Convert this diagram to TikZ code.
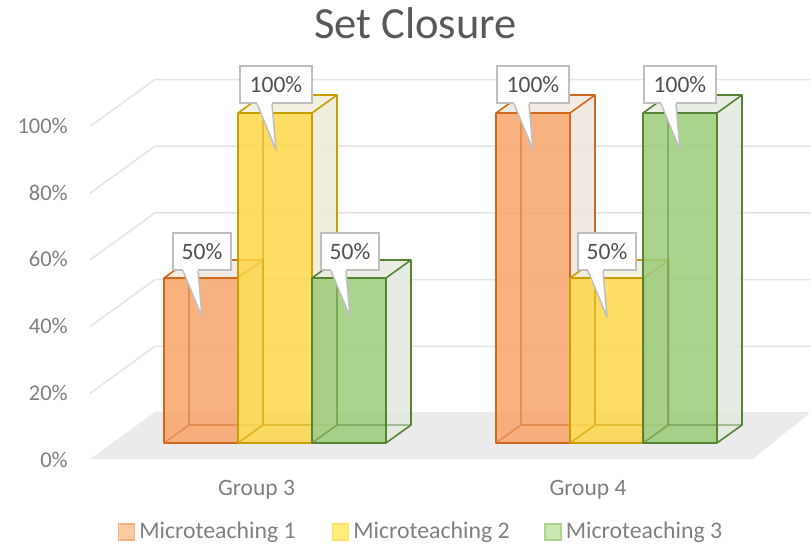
\documentclass[tikz,border=0pt]{standalone}
\usepackage{fontspec}
\setmainfont{Carlito}
\usepackage{tikz}
\usetikzlibrary{positioning, calc}
\definecolor{mtorange}{RGB}{247, 164, 105}
\definecolor{mtoedge}{RGB}{208, 104, 30}
\definecolor{mtyellow}{RGB}{253, 215, 72}
\definecolor{mtyedge}{RGB}{200, 158, 0}
\definecolor{mtgreen}{RGB}{155, 203, 122}
\definecolor{mtgedge}{RGB}{86, 132, 54}
\definecolor{keyorange}{RGB}{250, 203, 160}
\definecolor{keyoedge}{RGB}{246, 178, 128}
\definecolor{keyyellow}{RGB}{255, 238, 120}
\definecolor{keyyedge}{RGB}{252, 226, 98}
\definecolor{keygreen}{RGB}{200, 234, 176}
\definecolor{keygedge}{RGB}{172, 212, 144}
\definecolor{gridgray}{RGB}{228, 228, 228}
\definecolor{floorgray}{RGB}{235, 235, 235}
\definecolor{tickgray}{RGB}{128, 128, 128}
\definecolor{titlegray}{RGB}{89, 89, 89}
\definecolor{valgray}{RGB}{80, 80, 80}
\definecolor{boxgray}{RGB}{191, 191, 191}

% one 3D column: front-left x, front-top y, fill colour, edge colour
\newcommand{\mtbar}[4]{%
  \fill[#3, fill opacity=.85] (#1,443) rectangle (#1+74,#2);
  \fill[#3!15!white!88!gray, fill opacity=.85]
    (#1+74,443) -- (#1+99,425) -- (#1+99,#2-18) -- (#1+74,#2) -- cycle;
  \fill[#3!15!white!90!gray, fill opacity=.85]
    (#1,#2) -- (#1+25,#2-18) -- (#1+99,#2-18) -- (#1+74,#2) -- cycle;
  \draw[barline, #4, opacity=.45]
    (#1,443) -- (#1+25,425) -- (#1+99,425) (#1+25,425) -- (#1+25,#2-18);
  \draw[barline, #4] (#1,443) rectangle (#1+74,#2)
    (#1+74,443) -- (#1+99,425) -- (#1+99,#2-18) -- (#1+74,#2)
    (#1,#2) -- (#1+25,#2-18) -- (#1+99,#2-18);
}

\begin{document}
\begin{tikzpicture}[
    x=1pt, y=-1pt,
    gridline/.style={draw=gridgray, line width=1.5pt},
    barline/.style={line width=1.6pt, line join=round},
    tick/.style={anchor=base east, inner sep=0pt, text=tickgray,
                 font=\fontsize{22.5}{27}\selectfont},
    grouplbl/.style={anchor=base, inner sep=0pt, text=tickgray,
                     font=\fontsize{23.5}{28}\selectfont},
    valbox/.style={draw=boxgray, fill=white, line width=1.5pt,
                   minimum height=37pt, inner sep=0pt, text=valgray,
                   font=\fontsize{23.5}{28}\selectfont},
    legkey/.style={draw, line width=1.2pt, minimum size=16pt, inner sep=0pt},
    legtext/.style={inner sep=0pt, text=tickgray,
                    font=\fontsize{23.8}{28}\selectfont},
  ]
  \useasboundingbox (0,0) rectangle (811,546);

  \node[anchor=base, text=titlegray, font=\fontsize{44.5}{52}\selectfont]
    (title) at (415.5,38) {Set Closure};

  % walls and floor
  \fill[floorgray] (90,459) -- (753,459) -- (811,412) -- (155,412) -- cycle;
  \foreach \k in {1,...,5}
    \draw[gridline] (90,{460-66.7*\k}) -- (155,{413-66.7*\k}) -- (811,{413-66.7*\k});
  \foreach \k/\txt in {0/0\%, 1/20\%, 2/40\%, 3/60\%, 4/80\%, 5/100\%}
    \node[tick] (ytick\k) at (68,{467-66.7*\k}) {\txt};

  % columns
  \foreach \bx/\by/\bfill/\bedge in {164/278/mtorange/mtoedge, 238/113/mtyellow/mtyedge,
      312/278/mtgreen/mtgedge, 496/113/mtorange/mtoedge,
      570/278/mtyellow/mtyedge, 643/113/mtgreen/mtgedge}
    \mtbar{\bx}{\by}{\bfill}{\bedge};

  % data labels
  \foreach \nm/\cx/\cy/\val/\bw in {val1/202/251.5/50/58, val2/276/84.5/100/72,
      val3/350/251.5/50/58, val4/533/84.5/100/72,
      val5/607/251.5/50/58, val6/680/84.5/100/72} {
    \node[valbox, minimum width=\bw pt] (\nm) at (\cx,\cy) {\val\%};
    \coordinate (\nm tip) at (\cx,\cy+65.5);
    \fill[white] ($(\nm.south)+(-19,-2.5)$) -- ($(\nm.south)+(-19,0)$) -- (\nm tip)
      -- ($(\nm.south)+(-4,0)$) -- ($(\nm.south)+(-4,-2.5)$) -- cycle;
    \draw[draw=boxgray, line width=1.5pt, line join=round]
      ($(\nm.south)+(-19,0)$) -- (\nm tip) -- ($(\nm.south)+(-4,0)$);
  }

  \node[grouplbl] (grp3) at (256.5,495) {Group 3};
  \node[grouplbl] (grp4) at (588,495) {Group 4};

  % legend
  \node[legkey, fill=keyorange, draw=keyoedge] (key1) at (126.5,532) {};
  \node[legtext, right=4pt of key1] (leg1) {Microteaching 1};
  \node[legkey, fill=keyyellow, draw=keyyedge] (key2) at (340.5,532) {};
  \node[legtext, right=4pt of key2] (leg2) {Microteaching 2};
  \node[legkey, fill=keygreen, draw=keygedge] (key3) at (553,532) {};
  \node[legtext, right=4pt of key3] (leg3) {Microteaching 3};
\end{tikzpicture}
\end{document}
